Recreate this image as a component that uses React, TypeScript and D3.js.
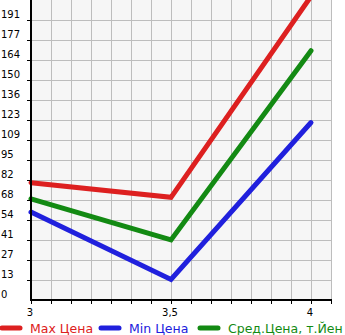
import React from "react";
import * as d3 from "d3";

const xValues = [3, 3.5, 4];
const xTickLabels = ["3", "3,5", "4"];
const maxPrice = [80, 70, 207];
const minPrice = [60, 14, 121];
const avgPrice = [69, 41, 170];
const yTickLabels = ["0", "13", "27", "41", "54", "68", "82", "95", "109", "123", "136", "150", "164", "177", "191"];
const legendLabels = ["Max Цена", "Min Цена", "Сред.Цена, т.Йен"];

const W = 345;
const H = 335;
const left = 31;
const right = 331;
const top = 0;
const bottom = 300;
const yStep = 150 / 11;

export default function App() {
  const x = d3.scaleLinear().domain([3, 4]).range([left, 311]);
  const y = d3.scaleLinear().domain([0, yStep * 15]).range([bottom, top]);
  const line = d3
    .line<number>()
    .x((_, i) => x(xValues[i]))
    .y((d) => y(d));

  const series = [
    { vals: maxPrice, color: "#dd2020" },
    { vals: minPrice, color: "#2020dd" },
    { vals: avgPrice, color: "#138a13" },
  ];

  const vGrid = d3.range(left + 20, right + 1, 20);
  const hGrid = d3.range(1, 15).map((i) => y(i * yStep));
  const xMinor = d3.range(left, right + 1, 20);
  const legendX = [0, 99, 198];

  return (
    <svg
      width={W}
      height={H}
      style={{ position: "absolute", left: 0, top: 0 }}
      fontFamily="DejaVu Sans, sans-serif"
    >
      <rect x={left} y={top} width={right - left} height={bottom - top} fill="#f6f6f6" />
      {vGrid.map((gx) => (
        <line key={"v" + gx} x1={gx} x2={gx} y1={top} y2={bottom} stroke="#bdbdbd" strokeWidth={1} shapeRendering="crispEdges" />
      ))}
      {hGrid.map((gy) => (
        <line key={"h" + gy} x1={left} x2={right} y1={gy} y2={gy} stroke="#bdbdbd" strokeWidth={1} shapeRendering="crispEdges" />
      ))}
      {series.map((s, i) => (
        <path key={i} d={line(s.vals) || ""} fill="none" stroke={s.color} strokeWidth={5} strokeLinecap="round" strokeLinejoin="miter" />
      ))}
      <line x1={left} x2={left} y1={top} y2={bottom + 1} stroke="#000" strokeWidth={2} />
      <line x1={left - 1} x2={right + 1} y1={bottom} y2={bottom} stroke="#000" strokeWidth={2} />
      {yTickLabels.map((t, i) => {
        const ty = y(i * yStep);
        return (
          <g key={"yt" + i}>
            {i > 0 && <line x1={left - 4} x2={left} y1={ty} y2={ty} stroke="#000" strokeWidth={1} shapeRendering="crispEdges" />}
            <text x={1} y={ty - 2} fontSize={10} fill="#000">{t}</text>
          </g>
        );
      })}
      {xMinor.map((tx) => (
        <line key={"xm" + tx} x1={tx} x2={tx} y1={bottom} y2={bottom + 4} stroke="#000" strokeWidth={1} shapeRendering="crispEdges" />
      ))}
      {xValues.map((v, i) => (
        <text key={"xt" + i} x={x(v) - 1} y={316} fontSize={10} textAnchor="middle" fill="#000">{xTickLabels[i]}</text>
      ))}
      {legendLabels.map((l, i) => (
        <g key={"lg" + i}>
          <line x1={legendX[i] + 2} x2={legendX[i] + 20} y1={328} y2={328} stroke={series[i].color} strokeWidth={5} strokeLinecap="round" />
          <text x={legendX[i] + 30} y={333} fontSize={12.5} fill={series[i].color}>{l}</text>
        </g>
      ))}
    </svg>
  );
}
